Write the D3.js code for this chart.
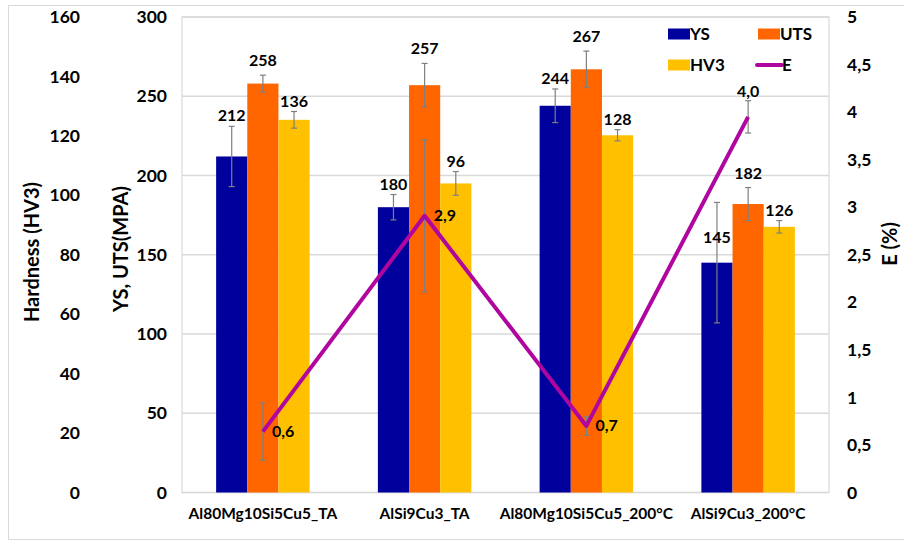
<!DOCTYPE html>
<html>
<head>
<meta charset="utf-8">
<script src="https://cdn.jsdelivr.net/npm/d3@7"></script>
<style>
  body { margin: 0; background: #fff; }
  text { font-family: Lato, "Open Sans", sans-serif; font-weight: 700; fill: #000; }
</style>
</head>
<body>
<div id="chart"></div>
<script>
var categories = ["Al80Mg10Si5Cu5_TA", "AlSi9Cu3_TA", "Al80Mg10Si5Cu5_200°C", "AlSi9Cu3_200°C"];
var series = ["YS", "UTS", "HV3"];

var ys = [212, 180, 244, 145];
var ysErr = [19, 8, 10.6, 38];
var uts = [258, 257, 267, 182];
var utsErr = [5.3, 13.7, 11.5, 10.4];
// hardness bars as drawn (HV3 axis), labels as printed on the chart
var hv = [125.4, 104, 120.2, 89.4];
var hvErr = [2.8, 4, 1.9, 2.1];
var hvLabels = ["136", "96", "128", "126"];
var elong = [0.64, 2.91, 0.70, 3.95];
var elongErr = [0.3, 0.8, 0.1, 0.17];
var elongLabels = ["0,6", "2,9", "0,7", "4,0"];

var hardTicks = [0, 20, 40, 60, 80, 100, 120, 140, 160];
var strTicks = [0, 50, 100, 150, 200, 250, 300];
var eTicks = [0, 0.5, 1, 1.5, 2, 2.5, 3, 3.5, 4, 4.5, 5];

var colors = {YS: "#00009c", UTS: "#ff6600", HV3: "#ffc000", E: "#b0069f"};

var width = 904, height = 541;
var plot = {left: 182, right: 829, top: 17, bottom: 492.5};

var svg = d3.select("#chart").append("svg")
	.attr("width", width)
	.attr("height", height);

var loc = d3.formatLocale({decimal: ",", thousands: ".", grouping: [3], currency: ["", ""]});
var fmtE = loc.format("~g");

// outer chart border
svg.append("rect")
	.attr("x", 8.5).attr("y", 5.5)
	.attr("width", width).attr("height", 534)
	.attr("fill", "none").attr("stroke", "#d9d9d9");

var x = d3.scaleBand().domain(categories).range([plot.left, plot.right]);
var groupW = x.bandwidth() * 0.578;
var xs = d3.scaleBand().domain(series).range([0, groupW]);
var groupOff = (x.bandwidth() - groupW) / 2;

var yS = d3.scaleLinear().domain([0, 300]).range([plot.bottom, plot.top]);
var yH = d3.scaleLinear().domain([0, 160]).range([plot.bottom, plot.top]);
var yE = d3.scaleLinear().domain([0, 5]).range([plot.bottom, plot.top]);

// grid
svg.append("g").selectAll("line")
	.data(strTicks)
	.enter().append("line")
	.attr("x1", plot.left).attr("x2", plot.right)
	.attr("y1", d => yS(d)).attr("y2", d => yS(d))
	.attr("stroke", "#d9d9d9").attr("stroke-width", 1.5);

svg.append("rect")
	.attr("x", plot.left).attr("y", plot.top)
	.attr("width", plot.right - plot.left).attr("height", plot.bottom - plot.top)
	.attr("fill", "none").attr("stroke", "#d9d9d9").attr("stroke-width", 1.2);

// axes
var axH = svg.append("g").attr("transform", "translate(88,0)")
	.call(d3.axisLeft(yH).tickValues(hardTicks).tickSize(0).tickPadding(8));
var axS = svg.append("g").attr("transform", "translate(175,0)")
	.call(d3.axisLeft(yS).tickValues(strTicks).tickSize(0).tickPadding(8));
var axE = svg.append("g").attr("transform", "translate(839,0)")
	.call(d3.axisRight(yE).tickValues(eTicks).tickSize(0).tickPadding(8).tickFormat(fmtE));
[axH, axS, axE].forEach(function(a) {
	a.select(".domain").remove();
	a.selectAll("text").style("font-size", "17.5px").attr("font-family", null).attr("fill", "#000");
});

svg.append("text").attr("transform", "translate(39,252) rotate(-90)")
	.attr("text-anchor", "middle").style("font-size", "20px").text("Hardness (HV3)");
svg.append("text").attr("transform", "translate(128,249) rotate(-90)")
	.attr("text-anchor", "middle").style("font-size", "20px").text("YS, UTS(MPA)");
svg.append("text").attr("transform", "translate(897,244) rotate(-90)")
	.attr("text-anchor", "middle").style("font-size", "20px").text("E (%)");

// x labels
svg.append("g").selectAll("text")
	.data(categories)
	.enter().append("text")
	.attr("x", d => x(d) + x.bandwidth() / 2)
	.attr("y", 519)
	.attr("text-anchor", "middle")
	.style("font-size", "15.5px")
	.text(d => d);

// bars
var rows = categories.map(function(c, i) {
	return [
		{cat: c, key: "YS", y: yS(ys[i]), err: [yS(ys[i] + ysErr[i]), yS(ys[i] - ysErr[i])], label: String(ys[i]), bigErr: ysErr[i] > 25},
		{cat: c, key: "UTS", y: yS(uts[i]), err: [yS(uts[i] + utsErr[i]), yS(uts[i] - utsErr[i])], label: String(uts[i]), bigErr: utsErr[i] > 25},
		{cat: c, key: "HV3", y: yH(hv[i]), err: [yH(hv[i] + hvErr[i]), yH(hv[i] - hvErr[i])], label: hvLabels[i], bigErr: false}
	];
});
var bars = [].concat.apply([], rows);

var bx = d => x(d.cat) + groupOff + xs(d.key);

svg.append("g").selectAll("rect")
	.data(bars)
	.enter().append("rect")
	.attr("x", bx)
	.attr("y", d => d.y)
	.attr("width", xs.bandwidth())
	.attr("height", d => plot.bottom - d.y)
	.attr("fill", d => colors[d.key]);

function errorBar(g, cx, top, bottom) {
	g.append("line").attr("x1", cx).attr("x2", cx).attr("y1", top).attr("y2", bottom);
	g.append("line").attr("x1", cx - 3).attr("x2", cx + 3).attr("y1", top).attr("y2", top);
	g.append("line").attr("x1", cx - 3).attr("x2", cx + 3).attr("y1", bottom).attr("y2", bottom);
}

var errG = svg.append("g").attr("stroke", "#7f7f7f").attr("stroke-width", 1.2);
bars.forEach(function(d) {
	errorBar(errG, bx(d) + xs.bandwidth() / 2, d.err[0], d.err[1]);
});

svg.append("g").selectAll("text")
	.data(bars)
	.enter().append("text")
	.attr("x", d => bx(d) + xs.bandwidth() / 2)
	.attr("y", d => (d.bigErr ? d.y - 25 : d.err[0] - (d.key === "UTS" ? 14 : 10)) + 5)
	.attr("text-anchor", "middle")
	.style("font-size", "16px")
	.text(d => d.label);

// elongation line
var ex = c => x(c) + x.bandwidth() / 2;
var line = d3.line().x((d, i) => ex(categories[i])).y(d => yE(d));

elong.forEach(function(v, i) {
	errorBar(errG, ex(categories[i]), yE(v + elongErr[i]), yE(v - elongErr[i]));
});

svg.append("path")
	.datum(elong)
	.attr("d", line)
	.attr("fill", "none")
	.attr("stroke", colors.E)
	.attr("stroke-width", 4)
	.attr("stroke-linejoin", "round");

svg.append("g").selectAll("text")
	.data(elong)
	.enter().append("text")
	.attr("x", (d, i) => i === elong.length - 1 ? ex(categories[i]) : ex(categories[i]) + 9)
	.attr("y", (d, i) => i === elong.length - 1 ? yE(d + elongErr[i]) - 9 + 5 : yE(d) + 5)
	.attr("text-anchor", (d, i) => i === elong.length - 1 ? "middle" : "start")
	.style("font-size", "16px")
	.text((d, i) => elongLabels[i]);

// legend
var legend = [
	{name: "YS", type: "rect", cx: 668, cy: 34},
	{name: "UTS", type: "rect", cx: 758, cy: 34},
	{name: "HV3", type: "rect", cx: 668, cy: 65},
	{name: "E", type: "line", cx: 757, cy: 65}
];
var lg = svg.append("g").selectAll("g")
	.data(legend)
	.enter().append("g")
	.attr("transform", d => `translate(${d.cx},${d.cy})`);
lg.filter(d => d.type === "rect").append("rect")
	.attr("x", 0).attr("y", -5.5).attr("width", 22).attr("height", 11)
	.attr("fill", d => colors[d.name]);
lg.filter(d => d.type === "line").append("line")
	.attr("x1", 0).attr("x2", 25).attr("y1", 0).attr("y2", 0)
	.attr("stroke", colors.E).attr("stroke-width", 4).attr("stroke-linecap", "round");
lg.append("text")
	.attr("x", d => d.type === "line" ? 25 : 22)
	.attr("y", 6)
	.style("font-size", "17px")
	.text(d => d.name);
</script>
</body>
</html>
